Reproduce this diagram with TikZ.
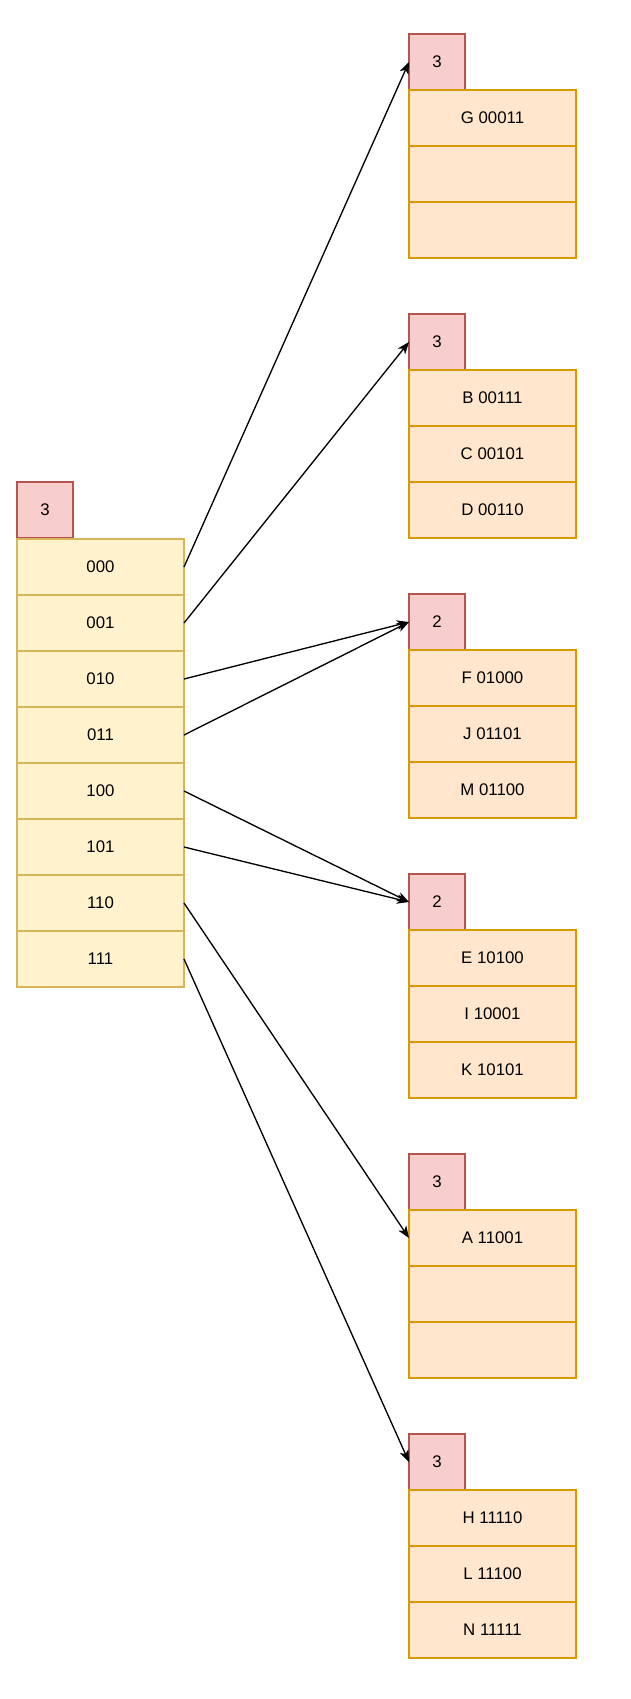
\documentclass[tikz,border=0pt]{standalone}
\usepackage{fontspec}
\setmainfont{Liberation Sans}
\usepackage{tikz}
\usetikzlibrary{arrows.meta,positioning}
\definecolor{depthfill}{HTML}{F8CECC}
\definecolor{depthline}{HTML}{B85450}
\definecolor{dirfill}{HTML}{FFF2CC}
\definecolor{dirline}{HTML}{D6B656}
\definecolor{bktfill}{HTML}{FFE6CC}
\definecolor{bktline}{HTML}{D79B00}

\begin{document}
\begin{tikzpicture}[x=0.75pt,y=-0.75pt,
  every node/.style={inner sep=0pt,outer sep=0pt,anchor=north west,font=\fontsize{12.6}{15}\selectfont},
  depth/.style={draw=depthline,fill=depthfill,line width=0.9pt,minimum width=42pt,minimum height=42pt},
  dircell/.style={draw=dirline,fill=dirfill,line width=0.9pt,minimum width=125.25pt,minimum height=42pt},
  bktcell/.style={draw=bktline,fill=bktfill,line width=0.9pt,minimum width=125.25pt,minimum height=42pt},
  ptr/.style={line width=1pt,-{Stealth[length=9pt,width=7pt,inset=2.5pt]}}]
\useasboundingbox (0,0) rectangle (631,1699);
%directory with global depth
\node[depth] (gdepth) at (17,482) {3};
\node[dircell] (d000) at (17,539) {000};
\node[dircell] (d001) at (17,595) {001};
\node[dircell] (d010) at (17,651) {010};
\node[dircell] (d011) at (17,707) {011};
\node[dircell] (d100) at (17,763) {100};
\node[dircell] (d101) at (17,819) {101};
\node[dircell] (d110) at (17,875) {110};
\node[dircell] (d111) at (17,931) {111};
%bucket 1
\node[depth] (bkt1) at (409,34) {3};
\node[bktcell] (bkt1a) at (409,90) {G 00011};
\node[bktcell] (bkt1b) at (409,146) {};
\node[bktcell] (bkt1c) at (409,202) {};
%bucket 2
\node[depth] (bkt2) at (409,314) {3};
\node[bktcell] (bkt2a) at (409,370) {B 00111};
\node[bktcell] (bkt2b) at (409,426) {C 00101};
\node[bktcell] (bkt2c) at (409,482) {D 00110};
%bucket 3
\node[depth] (bkt3) at (409,594) {2};
\node[bktcell] (bkt3a) at (409,650) {F 01000};
\node[bktcell] (bkt3b) at (409,706) {J 01101};
\node[bktcell] (bkt3c) at (409,762) {M 01100};
%bucket 4
\node[depth] (bkt4) at (409,874) {2};
\node[bktcell] (bkt4a) at (409,930) {E 10100};
\node[bktcell] (bkt4b) at (409,986) {I 10001};
\node[bktcell] (bkt4c) at (409,1042) {K 10101};
%bucket 5
\node[depth] (bkt5) at (409,1154) {3};
\node[bktcell] (bkt5a) at (409,1210) {A 11001};
\node[bktcell] (bkt5b) at (409,1266) {};
\node[bktcell] (bkt5c) at (409,1322) {};
%bucket 6
\node[depth] (bkt6) at (409,1434) {3};
\node[bktcell] (bkt6a) at (409,1490) {H 11110};
\node[bktcell] (bkt6b) at (409,1546) {L 11100};
\node[bktcell] (bkt6c) at (409,1602) {N 11111};
%pointers
\draw[ptr] (d000.east) -- (bkt1.west);
\draw[ptr] (d001.east) -- (bkt2.west);
\draw[ptr] (d010.east) -- (bkt3.west);
\draw[ptr] (d011.east) -- (bkt3.west);
\draw[ptr] (d100.east) -- (bkt4.west);
\draw[ptr] (d101.east) -- (bkt4.west);
\draw[ptr] (d110.east) -- (bkt5a.west);
\draw[ptr] (d111.east) -- (bkt6.west);
\end{tikzpicture}
\end{document}
